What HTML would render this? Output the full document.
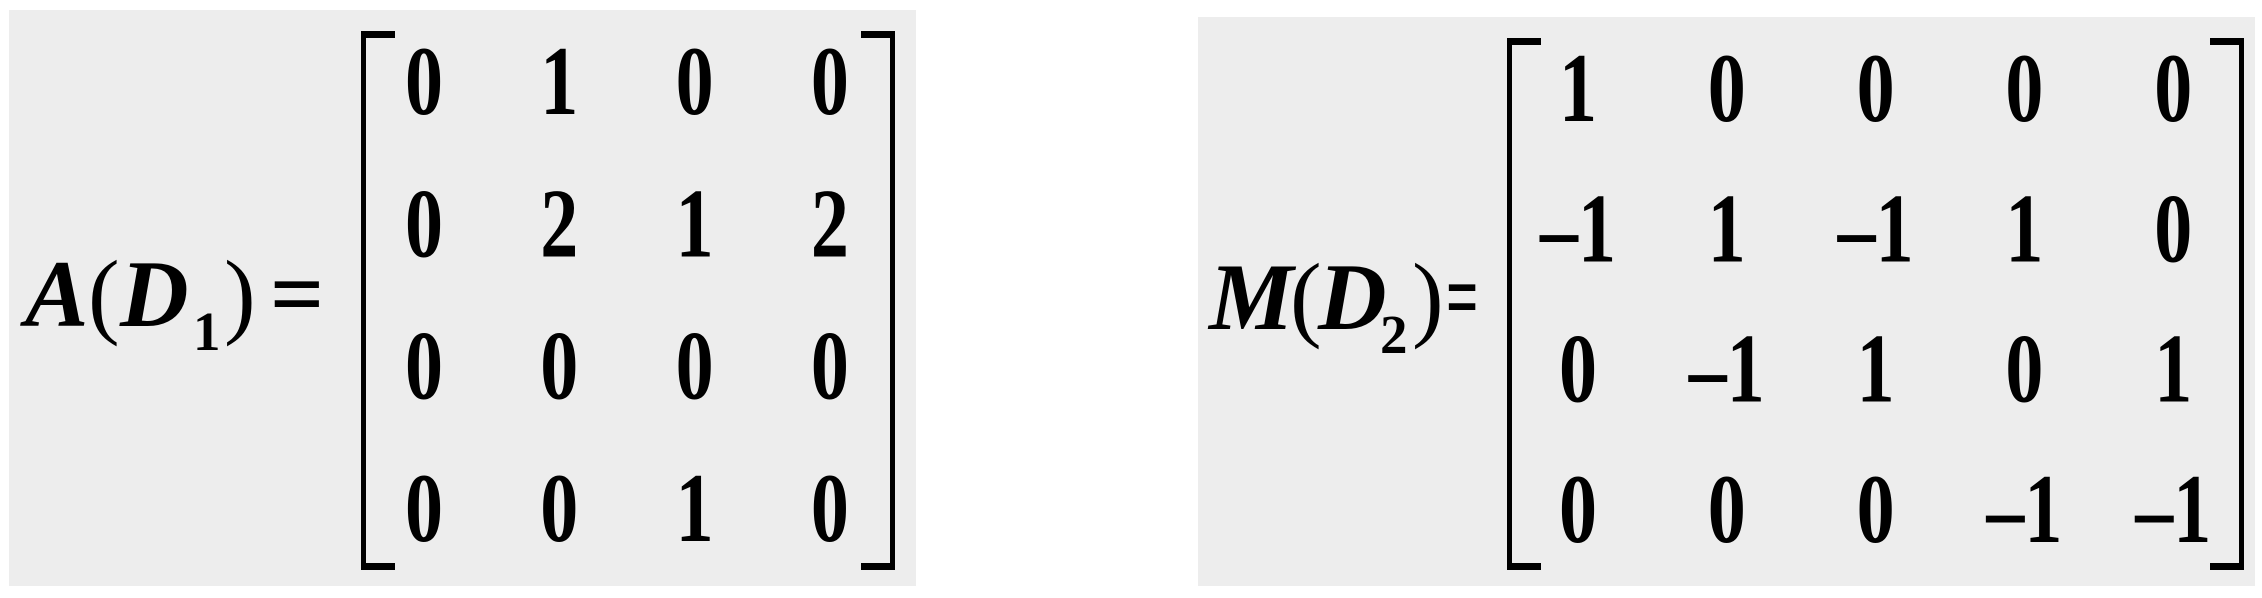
<!DOCTYPE html>
<html><head><meta charset="utf-8"><style>
html,body{margin:0;padding:0;background:#fff;}
svg{display:block}
svg text{font-family:"Liberation Serif","Times New Roman",Tinos,serif;font-weight:700;fill:#000}
</style></head><body>
<svg width="2262" height="598" viewBox="0 0 2262 598" xmlns="http://www.w3.org/2000/svg">
<rect x="9" y="10" width="907" height="576" fill="#ededed"/>
<rect x="1198" y="17" width="1057" height="569" fill="#ededed"/>
<g>
<text x="25" y="326" font-size="95" font-style="italic">A</text>
<text x="88" y="326" font-size="95" style="font-weight:400">(</text>
<text x="120" y="326" font-size="95" font-style="italic">D</text>
<text x="193" y="350" font-size="55">1</text>
<text x="224" y="326" font-size="95" style="font-weight:400">)</text>
<text x="270" y="326" font-size="95">=</text>
</g>
<g>
<text x="1209" y="329" font-size="95" font-style="italic">M</text>
<text x="1290" y="329" font-size="95" style="font-weight:400">(</text>
<text x="1318" y="329" font-size="95" font-style="italic">D</text>
<text x="1380" y="353" font-size="55">2</text>
<text x="1412" y="329" font-size="95" style="font-weight:400">)</text>
<text x="1446" y="329" font-size="95" transform="translate(1446 0) scale(0.6 1) translate(-1446 0)">=</text>
</g>
<g id="brackets" fill="#000"></g>
<g id="cells"></g>
</svg>
<script>
const matA = [[0,1,0,0],[0,2,1,2],[0,0,0,0],[0,0,1,0]];
const matM = [[1,0,0,0,0],[-1,1,-1,1,0],[0,-1,1,0,1],[0,0,0,-1,-1]];
const ns='http://www.w3.org/2000/svg';
function bracket(g,x,y1,y2,dir,name){
  const w=5,s=34,t=7;
  const parts = dir>0 ? [[x,y1,w,y2-y1],[x,y1,s,t],[x,y2-t,s,t]] : [[x-w,y1,w,y2-y1],[x-s,y1,s,t],[x-s,y2-t,s,t]];
  parts.forEach(p=>{const r=document.createElementNS(ns,'rect');
    r.setAttribute('x',p[0]);r.setAttribute('y',p[1]);r.setAttribute('width',p[2]);r.setAttribute('height',p[3]);
    
    
    g.appendChild(r);});
}
const bg=document.getElementById('brackets');
bracket(bg,361,31,570,1,'left-bracket-a');
bracket(bg,895,31,570,-1,'right-bracket-a');
bracket(bg,1507,38,570,1,'left-bracket-m');
bracket(bg,2244,38,570,-1,'right-bracket-m');
const cg=document.getElementById('cells');
function draw(m,x0,dx,y0,dy,prefix){
  m.forEach((row,i)=>row.forEach((v,j)=>{
    const t=document.createElementNS(ns,'text');
    t.setAttribute('x',0);t.setAttribute('y',0);
    t.setAttribute('transform','translate('+(x0+j*dx)+' '+(y0+i*dy+32)+') scale(0.8 1.04)');
    t.setAttribute('font-size','95');t.setAttribute('text-anchor','middle');
    t.textContent = v<0 ? '\u2013'+(-v) : String(v);
    
    
    cg.appendChild(t);
  }));
}
draw(matA,424,135.3,82,142.3,'a');
draw(matM,1578,148.8,89,140.3,'m');
</script>
</body></html>
